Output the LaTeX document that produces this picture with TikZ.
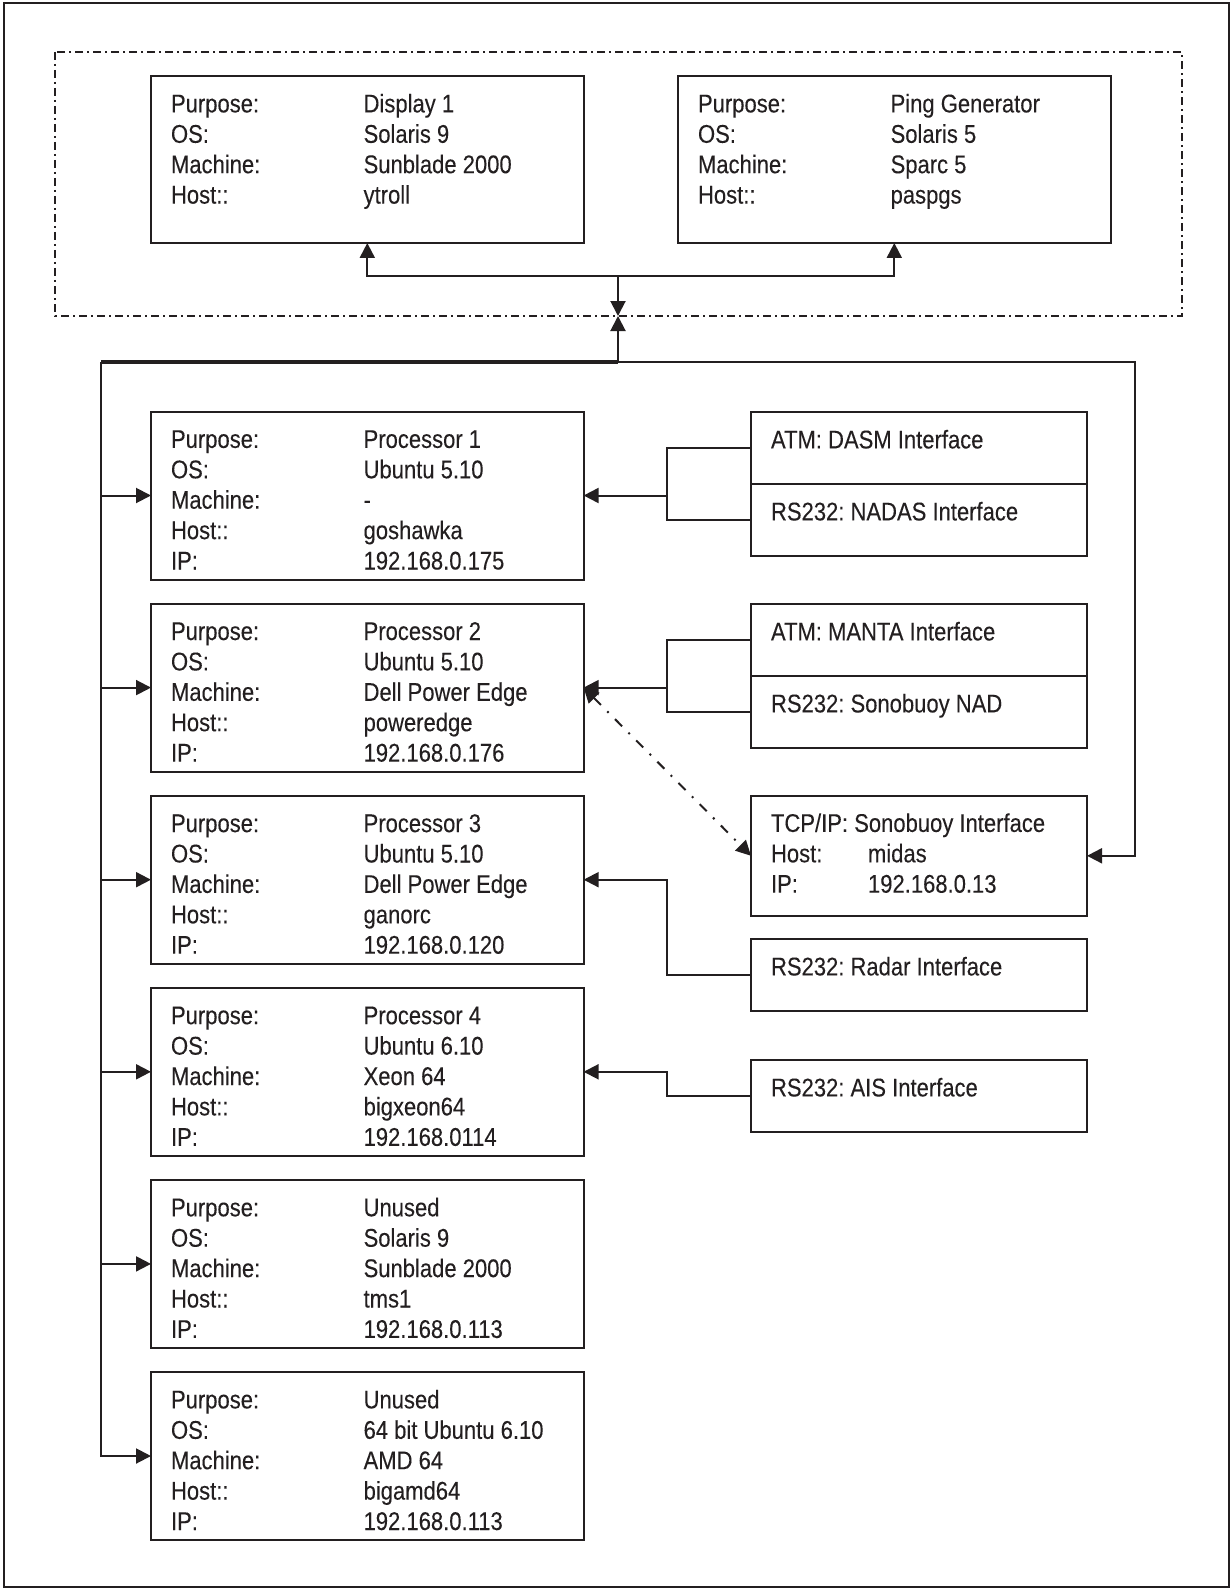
\documentclass[tikz,border=0pt]{standalone}
\usepackage{fontspec}
\setmainfont[FakeStretch=0.86, FakeBold=0.15]{Liberation Sans}
\usepackage{xcolor}
\usetikzlibrary{arrows.meta, calc}
\definecolor{linea}{HTML}{231F20}
\frenchspacing

\newcommand{\hostrow}[2]{\hspace*{10pt}\makebox[96.3pt][l]{#1}#2}
\newcommand{\boxtext}[3]{\parbox[c][#1][t]{#2}{\raggedright\rule{0pt}{18.2pt}#3}}

\tikzset{
  box/.style={draw=linea, line width=1pt, inner sep=0pt, outer sep=0pt, anchor=north west, text=linea, font=\fontsize{12.8}{15.2}\selectfont},
  conn/.style={draw=linea, line width=1pt},
  arr/.style={conn, -{Triangle[length=7.5pt, width=7.5pt]}},
  dashdot/.style={dash pattern=on 4pt off 2pt on 1pt off 2pt},
}

\begin{document}
\begin{tikzpicture}[x=0.5pt, y=-0.5pt]
\useasboundingbox (0,0) rectangle (1231,1589);
% Cornice
\draw[conn] (4,3) rectangle (1229,1587);

% Gruppo display
\draw[conn, dashdot] (55,52) rectangle (1182,316);
\node[box] (disp) at (151,76) {\boxtext{83.5pt}{216.3pt}{\hostrow{Purpose:}{Display 1}\\
  \hostrow{OS:}{Solaris 9}\\ \hostrow{Machine:}{Sunblade 2000}\\ \hostrow{Host::}{ytroll}}};
\node[box] (ping) at (678,76) {\boxtext{83.5pt}{216.3pt}{\hostrow{Purpose:}{Ping Generator}\\
  \hostrow{OS:}{Solaris 5}\\ \hostrow{Machine:}{Sparc 5}\\ \hostrow{Host::}{paspgs}}};

% Processori
\foreach \n/\y/\purp/\os/\mach/\host/\ip in {
  1/411.5/Processor 1/Ubuntu 5.10/-/goshawka/192.168.0.175,
  2/603.6/Processor 2/Ubuntu 5.10/Dell Power Edge/poweredge/192.168.0.176,
  3/795.7/Processor 3/Ubuntu 5.10/Dell Power Edge/ganorc/192.168.0.120,
  4/987.8/Processor 4/Ubuntu 6.10/Xeon 64/bigxeon64/192.168.0114,
  5/1179.9/Unused/Solaris 9/Sunblade 2000/tms1/192.168.0.113,
  6/1372/Unused/64 bit Ubuntu 6.10/AMD 64/bigamd64/192.168.0.113}{
    \node[box] (proc\n) at (151,\y) {\boxtext{84pt}{216.3pt}{\hostrow{Purpose:}{\purp}\\
      \hostrow{OS:}{\os}\\ \hostrow{Machine:}{\mach}\\ \hostrow{Host::}{\host}\\ \hostrow{IP:}{\ip}}};
}

% Interfacce
\node[box] (dasm) at (751,412) {\boxtext{36pt}{168pt}{\hspace*{10pt}ATM: DASM Interface}};
\node[box] (nadas) at (751,484) {\boxtext{36pt}{168pt}{\hspace*{10pt}RS232: NADAS Interface}};
\node[box] (manta) at (751,604) {\boxtext{36pt}{168pt}{\hspace*{10pt}ATM: MANTA Interface}};
\node[box] (sono) at (751,676) {\boxtext{36pt}{168pt}{\hspace*{10pt}RS232: Sonobuoy NAD}};
\node[box] (tcp) at (751,795.5) {\boxtext{60.3pt}{168pt}{\hspace*{10pt}TCP/IP: Sonobuoy Interface\\
  \hspace*{10pt}\makebox[48.5pt][l]{Host:}midas\\ \hspace*{10pt}\makebox[48.5pt][l]{IP:}192.168.0.13}};
\node[box] (radar) at (751,939) {\boxtext{36pt}{168pt}{\hspace*{10pt}RS232: Radar Interface}};
\node[box] (ais) at (751,1060) {\boxtext{36pt}{168pt}{\hspace*{10pt}RS232: AIS Interface}};

% Bus
\coordinate (top) at (618,275.6);
\coordinate (mid) at (618,316);
\coordinate (bus) at (618,362);
\coordinate (busL) at (101,362);
\coordinate (busR) at (1135,362);
\coordinate (split) at (667,0);

\draw[arr] (top) -| (disp.south);
\draw[arr] (top) -| (ping.south);
\draw[arr] (top) -- (mid);
\draw[arr] (bus) -- (mid);
\draw[conn, line width=2pt] (busL) -- (bus);
\draw[arr] (bus) -- (busR) |- (tcp.east);
\foreach \n in {1,...,5}
  \draw[arr] (busL |- proc\n.west) -- (proc\n.west);
\draw[arr] (busL) |- (proc6.west);

% Collegamenti interfacce
\draw[conn] (dasm.west) -| (split |- nadas.west) -- (nadas.west);
\draw[arr] (split |- proc1.east) -- (proc1.east);
\draw[conn] (manta.west) -| (split |- sono.west) -- (sono.west);
\draw[arr] (split |- proc2.east) -- (proc2.east);
\draw[arr] (radar.west) -| (split |- proc3.east) -- (proc3.east);
\draw[arr] (ais.west) -| (split |- proc4.east) -- (proc4.east);
\draw[conn, {Triangle[length=7.5pt, width=7.5pt]}-{Triangle[length=7.5pt, width=7.5pt]},
  dash pattern=on 5pt off 4.5pt on 1pt off 4.5pt] (proc2.east) -- (tcp.west);
\end{tikzpicture}
\end{document}
